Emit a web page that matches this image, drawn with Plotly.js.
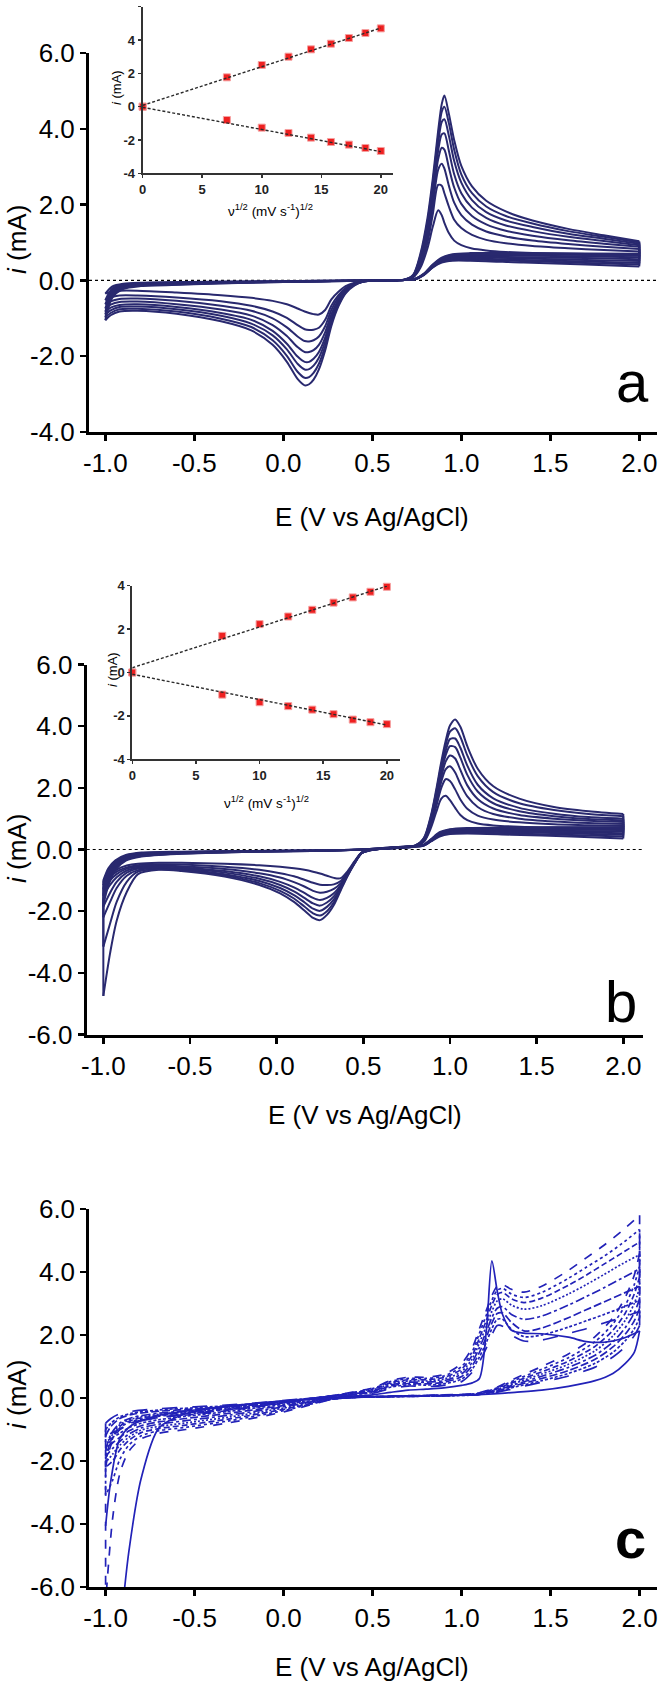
<!DOCTYPE html>
<html><head><meta charset="utf-8">
<script src="https://cdn.plot.ly/plotly-3.0.1.min.js"></script>
<style>html,body{margin:0;padding:0;background:#fff}#chart{width:661px;height:1684px}</style>
</head><body><div id="chart"></div>
<script>
// ---------- tick labels ----------
const xTickVals = [-1, -0.5, 0, 0.5, 1, 1.5, 2];
const xTickText = ['-1.0', '-0.5', '0.0', '0.5', '1.0', '1.5', '2.0'];
const yTickValsA = [-4, -2, 0, 2, 4, 6];
const yTickTextA = ['-4.0', '-2.0', '0.0', '2.0', '4.0', '6.0'];
const yTickValsBC = [-6, -4, -2, 0, 2, 4, 6];
const yTickTextBC = ['-6.0', '-4.0', '-2.0', '0.0', '2.0', '4.0', '6.0'];
const insetXTicks = [0, 5, 10, 15, 20];
const insetXText = ['0', '5', '10', '15', '20'];
const insetYTicksA = [-4, -2, 0, 2, 4, 6];
const insetYTextA = ['-4', '-2', '0', '2', '4', '6'];
const insetYTicksB = [-4, -2, 0, 2, 4];
const insetYTextB = ['-4', '-2', '0', '2', '4'];

// ---------- insets: peak current vs sqrt(scan rate) ----------
const sqrtV = [0, 7.07, 10, 12.25, 14.14, 15.81, 17.32, 18.71, 20];
const ipaA = [0, 1.76, 2.5, 3.0, 3.44, 3.78, 4.12, 4.42, 4.7];
const ipcA = [0, -0.8, -1.26, -1.58, -1.86, -2.12, -2.28, -2.48, -2.66];
const ipaB = [0, 1.69, 2.23, 2.58, 2.89, 3.22, 3.46, 3.72, 3.95];
const ipcB = [0, -1.02, -1.37, -1.55, -1.71, -1.92, -2.17, -2.29, -2.38];
const fitX = [0, 20];
const fitAup = [0.08, 4.72];
const fitAdn = [-0.04, -2.7];
const fitBup = [0.22, 3.98];
const fitBdn = [-0.08, -2.42];

// ---------- panel a: 8 CVs (rows = potential, columns = scan rate) ----------
const aFwdE = [-1.0, -0.96, -0.9, -0.8, -0.55, -0.2, 0.2, 0.55, 0.68, 0.73, 0.77, 0.81, 0.84, 0.87, 0.89, 0.905, 0.93, 0.96, 1.0, 1.06, 1.14, 1.25, 1.4, 1.6, 1.8, 2.0];
const aFwdI = [
 [-0.35, -0.52, -0.63, -0.74, -0.83, -0.9, -0.98, -1.05],
 [-0.16, -0.21, -0.25, -0.29, -0.33, -0.37, -0.41, -0.45],
 [-0.09, -0.11, -0.13, -0.15, -0.17, -0.19, -0.21, -0.23],
 [-0.06, -0.07, -0.08, -0.1, -0.11, -0.12, -0.13, -0.15],
 [-0.04, -0.05, -0.06, -0.07, -0.08, -0.09, -0.1, -0.11],
 [-0.03, -0.03, -0.04, -0.04, -0.05, -0.05, -0.06, -0.06],
 [-0.01, -0.01, -0.02, -0.02, -0.02, -0.02, -0.03, -0.03],
 [0, 0, 0, 0, 0, 0, 0, 0],
 [0.01, 0.01, 0.01, 0.01, 0.02, 0.02, 0.02, 0.02],
 [0.08, 0.09, 0.1, 0.11, 0.12, 0.13, 0.14, 0.15],
 [0.33, 0.4, 0.45, 0.5, 0.55, 0.6, 0.65, 0.7],
 [0.85, 1.0, 1.12, 1.23, 1.35, 1.45, 1.55, 1.65],
 [1.42, 1.75, 1.98, 2.15, 2.3, 2.45, 2.58, 2.7],
 [1.85, 2.52, 2.92, 3.2, 3.42, 3.62, 3.8, 3.95],
 [1.72, 2.5, 3.08, 3.5, 3.85, 4.18, 4.45, 4.65],
 [1.52, 2.3, 2.95, 3.45, 3.88, 4.25, 4.58, 4.88],
 [1.25, 1.95, 2.5, 2.98, 3.42, 3.82, 4.15, 4.4],
 [1.05, 1.6, 2.05, 2.45, 2.8, 3.15, 3.45, 3.7],
 [0.93, 1.38, 1.72, 2.02, 2.3, 2.58, 2.8, 3.02],
 [0.84, 1.2, 1.47, 1.7, 1.92, 2.12, 2.3, 2.48],
 [0.79, 1.07, 1.29, 1.48, 1.65, 1.8, 1.95, 2.1],
 [0.75, 0.98, 1.16, 1.31, 1.45, 1.58, 1.7, 1.82],
 [0.72, 0.91, 1.05, 1.18, 1.3, 1.41, 1.5, 1.58],
 [0.7, 0.85, 0.96, 1.06, 1.15, 1.23, 1.3, 1.36],
 [0.69, 0.8, 0.89, 0.97, 1.04, 1.1, 1.15, 1.19],
 [0.68, 0.76, 0.83, 0.89, 0.93, 0.97, 1.0, 1.03]
];
const aRevE = [2.0, 1.7, 1.35, 1.05, 0.95, 0.89, 0.84, 0.79, 0.74, 0.65, 0.52, 0.45, 0.4, 0.35, 0.31, 0.27, 0.235, 0.2, 0.17, 0.145, 0.12, 0.08, 0.02, -0.06, -0.18, -0.35, -0.6, -0.82, -0.92, -0.97, -1.0];
const aRevI = [
 [0.37, 0.42, 0.46, 0.51, 0.56, 0.61, 0.65, 0.7],
 [0.42, 0.46, 0.5, 0.54, 0.59, 0.63, 0.67, 0.71],
 [0.47, 0.51, 0.54, 0.58, 0.61, 0.65, 0.68, 0.72],
 [0.52, 0.55, 0.58, 0.61, 0.63, 0.66, 0.69, 0.72],
 [0.52, 0.54, 0.57, 0.59, 0.62, 0.64, 0.67, 0.69],
 [0.47, 0.49, 0.51, 0.53, 0.54, 0.56, 0.58, 0.6],
 [0.34, 0.35, 0.36, 0.37, 0.39, 0.4, 0.41, 0.42],
 [0.14, 0.15, 0.15, 0.16, 0.16, 0.17, 0.17, 0.18],
 [0.03, 0.03, 0.03, 0.03, 0.04, 0.04, 0.04, 0.04],
 [0.01, 0.01, 0.01, 0.01, 0.01, 0.01, 0.01, 0.01],
 [0, 0, 0, 0, 0, 0, 0, 0],
 [-0.02, -0.02, -0.02, -0.03, -0.03, -0.03, -0.03, -0.03],
 [-0.06, -0.08, -0.09, -0.1, -0.11, -0.12, -0.12, -0.13],
 [-0.15, -0.2, -0.23, -0.25, -0.28, -0.3, -0.32, -0.34],
 [-0.3, -0.39, -0.45, -0.51, -0.56, -0.6, -0.64, -0.68],
 [-0.5, -0.67, -0.78, -0.89, -0.98, -1.05, -1.13, -1.2],
 [-0.78, -1.04, -1.21, -1.37, -1.51, -1.62, -1.74, -1.85],
 [-0.9, -1.25, -1.48, -1.7, -1.89, -2.04, -2.2, -2.35],
 [-0.89, -1.3, -1.58, -1.84, -2.07, -2.25, -2.44, -2.62],
 [-0.86, -1.31, -1.61, -1.89, -2.15, -2.34, -2.55, -2.74],
 [-0.82, -1.29, -1.6, -1.89, -2.15, -2.35, -2.57, -2.77],
 [-0.74, -1.18, -1.48, -1.76, -2.01, -2.2, -2.41, -2.6],
 [-0.63, -0.99, -1.24, -1.47, -1.67, -1.82, -1.99, -2.15],
 [-0.54, -0.82, -1.0, -1.18, -1.33, -1.45, -1.58, -1.7],
 [-0.46, -0.67, -0.8, -0.93, -1.04, -1.14, -1.23, -1.32],
 [-0.39, -0.55, -0.67, -0.77, -0.86, -0.93, -1.01, -1.08],
 [-0.32, -0.45, -0.54, -0.63, -0.7, -0.76, -0.82, -0.88],
 [-0.27, -0.4, -0.48, -0.56, -0.63, -0.69, -0.75, -0.8],
 [-0.27, -0.4, -0.49, -0.57, -0.65, -0.7, -0.76, -0.82],
 [-0.3, -0.45, -0.55, -0.64, -0.72, -0.79, -0.86, -0.92],
 [-0.35, -0.52, -0.63, -0.74, -0.83, -0.9, -0.98, -1.05]
];

// ---------- panel b: 8 CVs ----------
const bFwdE = [-1.0, -0.97, -0.93, -0.87, -0.78, -0.55, -0.2, 0.2, 0.5, 0.7, 0.8, 0.85, 0.89, 0.92, 0.95, 0.975, 1.0, 1.03, 1.06, 1.1, 1.16, 1.25, 1.4, 1.6, 1.8, 2.0];
const bFwdI = [
 [-1.0, -1.05, -1.1, -1.2, -1.3, -1.45, -1.6, -1.8],
 [-0.6, -0.65, -0.7, -0.78, -0.85, -0.95, -1.05, -1.15],
 [-0.35, -0.38, -0.42, -0.46, -0.5, -0.55, -0.6, -0.66],
 [-0.18, -0.2, -0.22, -0.25, -0.27, -0.3, -0.33, -0.36],
 [-0.1, -0.12, -0.13, -0.15, -0.17, -0.19, -0.21, -0.23],
 [-0.07, -0.08, -0.09, -0.1, -0.11, -0.12, -0.13, -0.14],
 [-0.05, -0.05, -0.06, -0.06, -0.07, -0.07, -0.08, -0.08],
 [-0.03, -0.03, -0.03, -0.04, -0.04, -0.04, -0.05, -0.05],
 [0, 0, 0, 0, 0, 0, 0, 0],
 [0.05, 0.05, 0.06, 0.06, 0.07, 0.07, 0.08, 0.08],
 [0.1, 0.1, 0.11, 0.11, 0.12, 0.12, 0.13, 0.13],
 [0.25, 0.27, 0.29, 0.3, 0.32, 0.34, 0.36, 0.38],
 [0.7, 0.78, 0.85, 0.9, 0.95, 1.0, 1.05, 1.1],
 [1.2, 1.38, 1.5, 1.6, 1.7, 1.78, 1.85, 1.92],
 [1.65, 2.0, 2.2, 2.35, 2.5, 2.62, 2.74, 2.85],
 [1.74, 2.28, 2.6, 2.85, 3.05, 3.2, 3.38, 3.52],
 [1.6, 2.22, 2.7, 3.05, 3.35, 3.58, 3.82, 4.02],
 [1.35, 1.95, 2.5, 2.95, 3.32, 3.6, 3.93, 4.22],
 [1.12, 1.62, 2.12, 2.58, 2.98, 3.3, 3.65, 3.98],
 [0.95, 1.32, 1.72, 2.08, 2.42, 2.72, 3.05, 3.35],
 [0.84, 1.1, 1.38, 1.64, 1.88, 2.1, 2.38, 2.62],
 [0.78, 0.97, 1.15, 1.33, 1.5, 1.66, 1.86, 2.05],
 [0.74, 0.88, 1.0, 1.12, 1.24, 1.35, 1.5, 1.65],
 [0.72, 0.82, 0.91, 1.0, 1.08, 1.16, 1.28, 1.38],
 [0.71, 0.79, 0.86, 0.93, 0.99, 1.05, 1.15, 1.24],
 [0.7, 0.76, 0.83, 0.89, 0.95, 1.0, 1.08, 1.15]
];
const bRevE = [2.0, 1.7, 1.35, 1.1, 1.0, 0.94, 0.89, 0.85, 0.8, 0.7, 0.6, 0.53, 0.49, 0.45, 0.41, 0.37, 0.33, 0.29, 0.25, 0.21, 0.16, 0.1, 0.02, -0.1, -0.3, -0.55, -0.68, -0.8, -0.865, -0.923, -0.961, -1.0];
const bRevI = [
 [0.36, 0.42, 0.48, 0.53, 0.58, 0.63, 0.68, 0.72],
 [0.42, 0.47, 0.52, 0.56, 0.6, 0.64, 0.68, 0.72],
 [0.48, 0.52, 0.56, 0.59, 0.62, 0.65, 0.68, 0.71],
 [0.52, 0.55, 0.58, 0.61, 0.63, 0.65, 0.67, 0.7],
 [0.5, 0.53, 0.56, 0.58, 0.6, 0.62, 0.64, 0.66],
 [0.42, 0.44, 0.46, 0.48, 0.5, 0.52, 0.54, 0.56],
 [0.26, 0.27, 0.28, 0.29, 0.3, 0.31, 0.32, 0.33],
 [0.13, 0.13, 0.14, 0.14, 0.15, 0.15, 0.16, 0.16],
 [0.09, 0.09, 0.1, 0.1, 0.1, 0.11, 0.11, 0.11],
 [0.06, 0.06, 0.06, 0.07, 0.07, 0.07, 0.07, 0.08],
 [0.02, 0.02, 0.02, 0.02, 0.02, 0.02, 0.02, 0.02],
 [-0.02, -0.02, -0.03, -0.03, -0.03, -0.03, -0.04, -0.04],
 [-0.1, -0.1, -0.11, -0.11, -0.11, -0.12, -0.12, -0.12],
 [-0.38, -0.4, -0.41, -0.42, -0.43, -0.44, -0.44, -0.45],
 [-0.7, -0.74, -0.76, -0.79, -0.8, -0.82, -0.84, -0.85],
 [-0.93, -1.02, -1.09, -1.15, -1.2, -1.24, -1.28, -1.32],
 [-0.92, -1.13, -1.28, -1.42, -1.52, -1.62, -1.71, -1.8],
 [-0.85, -1.15, -1.37, -1.57, -1.72, -1.86, -2.0, -2.12],
 [-0.78, -1.14, -1.4, -1.64, -1.82, -1.99, -2.14, -2.29],
 [-0.72, -1.08, -1.34, -1.57, -1.75, -1.92, -2.07, -2.22],
 [-0.66, -0.98, -1.2, -1.41, -1.57, -1.71, -1.85, -1.98],
 [-0.61, -0.87, -1.06, -1.23, -1.36, -1.48, -1.59, -1.7],
 [-0.56, -0.77, -0.91, -1.05, -1.15, -1.25, -1.34, -1.42],
 [-0.51, -0.66, -0.77, -0.87, -0.95, -1.02, -1.09, -1.15],
 [-0.46, -0.56, -0.63, -0.7, -0.75, -0.8, -0.84, -0.88],
 [-0.43, -0.49, -0.54, -0.58, -0.62, -0.65, -0.67, -0.7],
 [-0.43, -0.48, -0.52, -0.55, -0.58, -0.61, -0.64, -0.66],
 [-0.46, -0.51, -0.55, -0.59, -0.62, -0.67, -0.72, -0.8],
 [-0.52, -0.58, -0.62, -0.68, -0.75, -0.85, -1.05, -1.38],
 [-0.65, -0.72, -0.8, -0.9, -1.05, -1.25, -1.7, -2.31],
 [-0.82, -0.9, -1.0, -1.15, -1.4, -1.7, -2.4, -3.36],
 [-1.05, -1.15, -1.3, -1.5, -1.85, -2.2, -3.15, -4.75]
];

// ---------- panel c: 1 solid + 8 dashed CVs ----------
const cFwdE = [-1.0, -0.97, -0.92, -0.85, -0.7, -0.5, -0.2, 0.1, 0.35, 0.5, 0.6, 0.7, 0.8, 0.9, 1.0, 1.06, 1.1, 1.14, 1.17, 1.2, 1.23, 1.28, 1.35, 1.45, 1.6, 1.7, 1.8, 1.9, 2.0];
const cFwdI = [
 [-4.06, -2.2, -2.05, -1.95, -1.8, -1.65, -1.2, -1.0, -0.8],
 [-2.6, -1.5, -1.4, -1.35, -1.25, -1.15, -0.9, -0.8, -0.65],
 [-1.3, -1.0, -0.95, -0.9, -0.85, -0.8, -0.65, -0.6, -0.5],
 [-0.85, -0.78, -0.74, -0.7, -0.66, -0.62, -0.52, -0.48, -0.42],
 [-0.55, -0.62, -0.58, -0.55, -0.52, -0.48, -0.42, -0.38, -0.34],
 [-0.38, -0.52, -0.48, -0.45, -0.42, -0.39, -0.35, -0.31, -0.28],
 [-0.2, -0.32, -0.3, -0.28, -0.26, -0.24, -0.22, -0.2, -0.18],
 [-0.05, -0.08, -0.07, -0.06, -0.06, -0.05, -0.04, -0.04, -0.03],
 [0.05, 0.15, 0.14, 0.13, 0.12, 0.11, 0.1, 0.09, 0.08],
 [0.1, 0.32, 0.3, 0.27, 0.25, 0.22, 0.2, 0.17, 0.15],
 [0.18, 0.55, 0.52, 0.48, 0.45, 0.41, 0.38, 0.34, 0.3],
 [0.25, 0.66, 0.62, 0.58, 0.54, 0.5, 0.46, 0.42, 0.38],
 [0.28, 0.66, 0.62, 0.58, 0.54, 0.5, 0.45, 0.41, 0.36],
 [0.32, 0.75, 0.7, 0.65, 0.6, 0.55, 0.5, 0.45, 0.4],
 [0.4, 1.1, 1.0, 0.92, 0.84, 0.76, 0.68, 0.6, 0.52],
 [0.48, 1.6, 1.48, 1.36, 1.25, 1.14, 1.03, 0.92, 0.82],
 [0.62, 2.2, 2.05, 1.9, 1.75, 1.6, 1.45, 1.3, 1.15],
 [2.2, 2.8, 2.65, 2.48, 2.3, 2.12, 1.95, 1.78, 1.6],
 [4.35, 3.25, 3.1, 2.95, 2.75, 2.55, 2.38, 2.2, 2.0],
 [3.4, 3.55, 3.42, 3.28, 3.08, 2.85, 2.68, 2.5, 2.3],
 [2.65, 3.6, 3.48, 3.35, 3.15, 2.9, 2.7, 2.5, 2.28],
 [2.15, 3.45, 3.3, 3.15, 2.95, 2.65, 2.4, 2.18, 2.0],
 [2.06, 3.36, 3.19, 3.03, 2.82, 2.5, 2.13, 1.95, 1.81],
 [2.04, 3.55, 3.35, 3.17, 2.93, 2.6, 2.22, 2.0, 1.84],
 [1.93, 4.05, 3.8, 3.58, 3.3, 2.95, 2.55, 2.25, 2.05],
 [1.79, 4.45, 4.15, 3.9, 3.6, 3.22, 2.8, 2.45, 2.2],
 [1.77, 4.85, 4.5, 4.25, 3.92, 3.5, 3.05, 2.65, 2.38],
 [1.88, 5.3, 4.9, 4.6, 4.25, 3.8, 3.3, 2.87, 2.55],
 [2.13, 5.8, 5.35, 4.95, 4.55, 4.1, 3.55, 3.1, 2.75]
];
const cRevE = [2.0, 1.97, 1.92, 1.85, 1.75, 1.6, 1.45, 1.3, 1.18, 1.08, 0.9, 0.6, 0.3, 0.0, -0.3, -0.55, -0.7, -0.8, -0.87, -0.92, -0.96, -1.0];
const cRevI = [
 [2.13, 4.6, 4.2, 3.85, 3.5, 3.15, 2.85, 2.55, 2.3],
 [1.45, 3.9, 3.6, 3.3, 3.0, 2.7, 2.45, 2.2, 1.98],
 [1.1, 3.2, 2.95, 2.7, 2.47, 2.24, 2.03, 1.82, 1.63],
 [0.78, 2.55, 2.35, 2.15, 1.97, 1.78, 1.62, 1.45, 1.3],
 [0.55, 1.95, 1.79, 1.64, 1.5, 1.36, 1.23, 1.1, 0.98],
 [0.37, 1.4, 1.28, 1.17, 1.07, 0.97, 0.87, 0.78, 0.7],
 [0.25, 1.0, 0.91, 0.83, 0.76, 0.69, 0.62, 0.55, 0.5],
 [0.18, 0.62, 0.57, 0.52, 0.47, 0.43, 0.39, 0.35, 0.31],
 [0.13, 0.3, 0.28, 0.26, 0.24, 0.22, 0.2, 0.18, 0.16],
 [0.1, 0.15, 0.14, 0.13, 0.12, 0.11, 0.11, 0.1, 0.1],
 [0.08, 0.1, 0.09, 0.09, 0.08, 0.08, 0.08, 0.07, 0.07],
 [0.05, 0.06, 0.06, 0.05, 0.05, 0.05, 0.04, 0.04, 0.04],
 [0.0, -0.02, -0.02, -0.02, -0.01, -0.01, -0.01, 0, 0],
 [-0.1, -0.44, -0.4, -0.36, -0.32, -0.28, -0.24, -0.2, -0.16],
 [-0.25, -0.78, -0.72, -0.66, -0.6, -0.54, -0.48, -0.42, -0.36],
 [-0.5, -1.0, -0.93, -0.86, -0.79, -0.72, -0.65, -0.58, -0.52],
 [-0.95, -1.12, -1.04, -0.97, -0.9, -0.83, -0.76, -0.69, -0.62],
 [-2.55, -1.3, -1.2, -1.1, -1.02, -0.95, -0.88, -0.8, -0.72],
 [-4.9, -1.7, -1.5, -1.35, -1.25, -1.15, -1.05, -0.95, -0.85],
 [-7.5, -2.4, -1.95, -1.65, -1.5, -1.38, -1.25, -1.12, -1.0],
 [-9.5, -3.8, -2.6, -2.0, -1.78, -1.6, -1.42, -1.25, -1.1],
 [-11, -6.5, -3.1, -2.2, -2.05, -1.85, -1.6, -1.4, -1.2]
];

// ---------- drawing ----------
const W = 661, H = 1684;
const FONT = 'Liberation Sans, Arial, Helvetica, sans-serif';
const px2x = p => p / W;
const px2y = p => 1 - p / H;
const NAVY = '#29296f';
const BLUE = '#2222b8';

const traces = [];
function col(rows, k) { return rows.map(r => r[k]); }
function addCV(ax, ay, Ef, Rf, Er, Rr, dashes, color, width, leftJoin) {
  const n = Rf[0].length;
  for (let k = 0; k < n; k++) {
    const line = {color: color, width: width, dash: dashes[k], shape: 'spline', smoothing: 0.8};
    traces.push({x: Ef, y: col(Rf, k), xaxis: ax, yaxis: ay, mode: 'lines', line: line, hoverinfo: 'skip'});
    traces.push({x: Er, y: col(Rr, k), xaxis: ax, yaxis: ay, mode: 'lines', line: line, hoverinfo: 'skip'});
    const cx = [Ef[Ef.length - 1], Er[0]];
    const cy = [Rf[Rf.length - 1][k], Rr[0][k]];
    if (leftJoin[k]) {
      cx.push(null, Er[Er.length - 1], Ef[0]);
      cy.push(null, Rr[Rr.length - 1][k], Rf[0][k]);
    }
    traces.push({x: cx, y: cy, xaxis: ax, yaxis: ay, mode: 'lines', connectgaps: false,
      line: {color: color, width: width, dash: dashes[k]}, hoverinfo: 'skip'});
  }
}
const solid8 = Array(8).fill('solid');
const join8 = Array(8).fill(true);
addCV('x', 'y', aFwdE, aFwdI, aRevE, aRevI, solid8, NAVY, 2, join8);
addCV('x3', 'y3', bFwdE, bFwdI, bRevE, bRevI, solid8, NAVY, 2, join8);
addCV('x5', 'y5', cFwdE, cFwdI, cRevE, cRevI,
  ['solid', 'dash', 'dot', '6px,3px', '2px,2px', 'dashdot', '8px,3px', '3px,2px', 'longdash'],
  BLUE, 1.7, [false, true, true, true, true, true, true, true, true]);

function addInset(ax, ay, up, dn, fu, fd) {
  const mk = {symbol: 'square', size: 7, color: '#ee2020', line: {color: '#f5a0a0', width: 1}};
  traces.push({x: sqrtV, y: up, xaxis: ax, yaxis: ay, mode: 'markers', marker: mk, cliponaxis: false, hoverinfo: 'skip'});
  traces.push({x: sqrtV, y: dn, xaxis: ax, yaxis: ay, mode: 'markers', marker: mk, cliponaxis: false, hoverinfo: 'skip'});
  const fl = {color: '#2b2b2b', width: 1.4, dash: '3px,2px'};
  traces.push({x: fitX, y: fu, xaxis: ax, yaxis: ay, mode: 'lines', line: fl, hoverinfo: 'skip'});
  traces.push({x: fitX, y: fd, xaxis: ax, yaxis: ay, mode: 'lines', line: fl, hoverinfo: 'skip'});
}
addInset('x2', 'y2', ipaA, ipcA, fitAup, fitAdn);
addInset('x4', 'y4', ipaB, ipcB, fitBup, fitBdn);

function mainAxis(domain, range, anchor, vals, text) {
  return {domain: domain, range: range, anchor: anchor, showline: true, linewidth: 3, linecolor: '#000',
    ticks: 'outside', ticklen: 6, tickwidth: 2.5, tickcolor: '#000', tickvals: vals, ticktext: text,
    tickfont: {family: FONT, size: 26, color: '#000'}, showgrid: false, zeroline: false, fixedrange: true};
}
function insetAxis(domain, range, anchor, vals, text) {
  return {domain: domain, range: range, anchor: anchor, showline: true, linewidth: 2, linecolor: '#333',
    ticks: 'outside', ticklen: 3, tickwidth: 1.5, tickcolor: '#333', tickvals: vals, ticktext: text,
    tickfont: {family: FONT, size: 13, color: '#222', weight: 'bold'}, showgrid: false, zeroline: false, fixedrange: true};
}

function ann(text, px, py, size, extra) {
  return Object.assign({text: text, x: px2x(px), y: px2y(py), xref: 'paper', yref: 'paper', showarrow: false,
    xanchor: 'center', yanchor: 'middle', font: {family: FONT, size: size, color: '#000'}}, extra || {});
}
const xTitle = 'E (V vs Ag/AgCl)';
const yTitle = '<i>i</i> (mA)';
const insetXTitle = '\u03bd<sup>1/2</sup> (mV s<sup>-1</sup>)<sup>1/2</sup>';

const layout = {
  width: W, height: H, margin: {l: 0, r: 0, t: 0, b: 0},
  paper_bgcolor: '#fff', plot_bgcolor: 'rgba(0,0,0,0)', showlegend: false,
  xaxis: mainAxis([px2x(89), px2x(657)], [-1.0916, 2.0994], 'y', xTickVals, xTickText),
  yaxis: mainAxis([px2y(432), px2y(53)], [-4, 6], 'x', yTickValsA, yTickTextA),
  xaxis2: insetAxis([px2x(142.7), px2x(392.7)], [0, 21], 'y2', insetXTicks, insetXText),
  yaxis2: insetAxis([px2y(173.3), px2y(6.7)], [-4, 6], 'x2', insetYTicksA, insetYTextA),
  xaxis3: mainAxis([px2x(86.7), px2x(642.7)], [-1.096, 2.112], 'y3', xTickVals, xTickText),
  yaxis3: mainAxis([px2y(1034.5), px2y(664.5)], [-6, 6], 'x3', yTickValsBC, yTickTextBC),
  xaxis4: insetAxis([px2x(132.3), px2x(399.6)], [0, 21], 'y4', insetXTicks, insetXText),
  yaxis4: insetAxis([px2y(759.3), px2y(585.7)], [-4, 4], 'x4', insetYTicksB, insetYTextB),
  xaxis5: mainAxis([px2x(89.3), px2x(657.3)], [-1.0916, 2.0994], 'y5', xTickVals, xTickText),
  yaxis5: mainAxis([px2y(1587), px2y(1209)], [-6, 6], 'x5', yTickValsBC, yTickTextBC),
  shapes: [
    {type: 'line', xref: 'x domain', yref: 'y', x0: 0, x1: 1, y0: 0, y1: 0, layer: 'below', line: {color: '#000', width: 1.2, dash: 'dot'}},
    {type: 'line', xref: 'x3 domain', yref: 'y3', x0: 0, x1: 1, y0: 0, y1: 0, layer: 'below', line: {color: '#000', width: 1.2, dash: 'dot'}}
  ],
  annotations: [
    ann(xTitle, 372.5, 517, 26),
    ann(xTitle, 365, 1115, 26),
    ann(xTitle, 372.5, 1667, 26),
    ann(yTitle, 17, 240, 26, {textangle: -90}),
    ann(yTitle, 17, 849, 26, {textangle: -90}),
    ann(yTitle, 17, 1395, 26, {textangle: -90}),
    ann('a', 632, 382, 58),
    ann('b', 621, 1001, 58),
    ann('c', 630, 1538, 56, {font: {family: FONT, size: 56, color: '#000', weight: 'bold'}}),
    ann(insetXTitle, 270, 210, 13.5),
    ann(insetXTitle, 266, 802, 13.5),
    ann(yTitle, 117, 88, 13, {textangle: -90}),
    ann(yTitle, 112, 670, 13, {textangle: -90})
  ]
};

Plotly.newPlot('chart', traces, layout, {displayModeBar: false, staticPlot: true});
</script></body></html>
